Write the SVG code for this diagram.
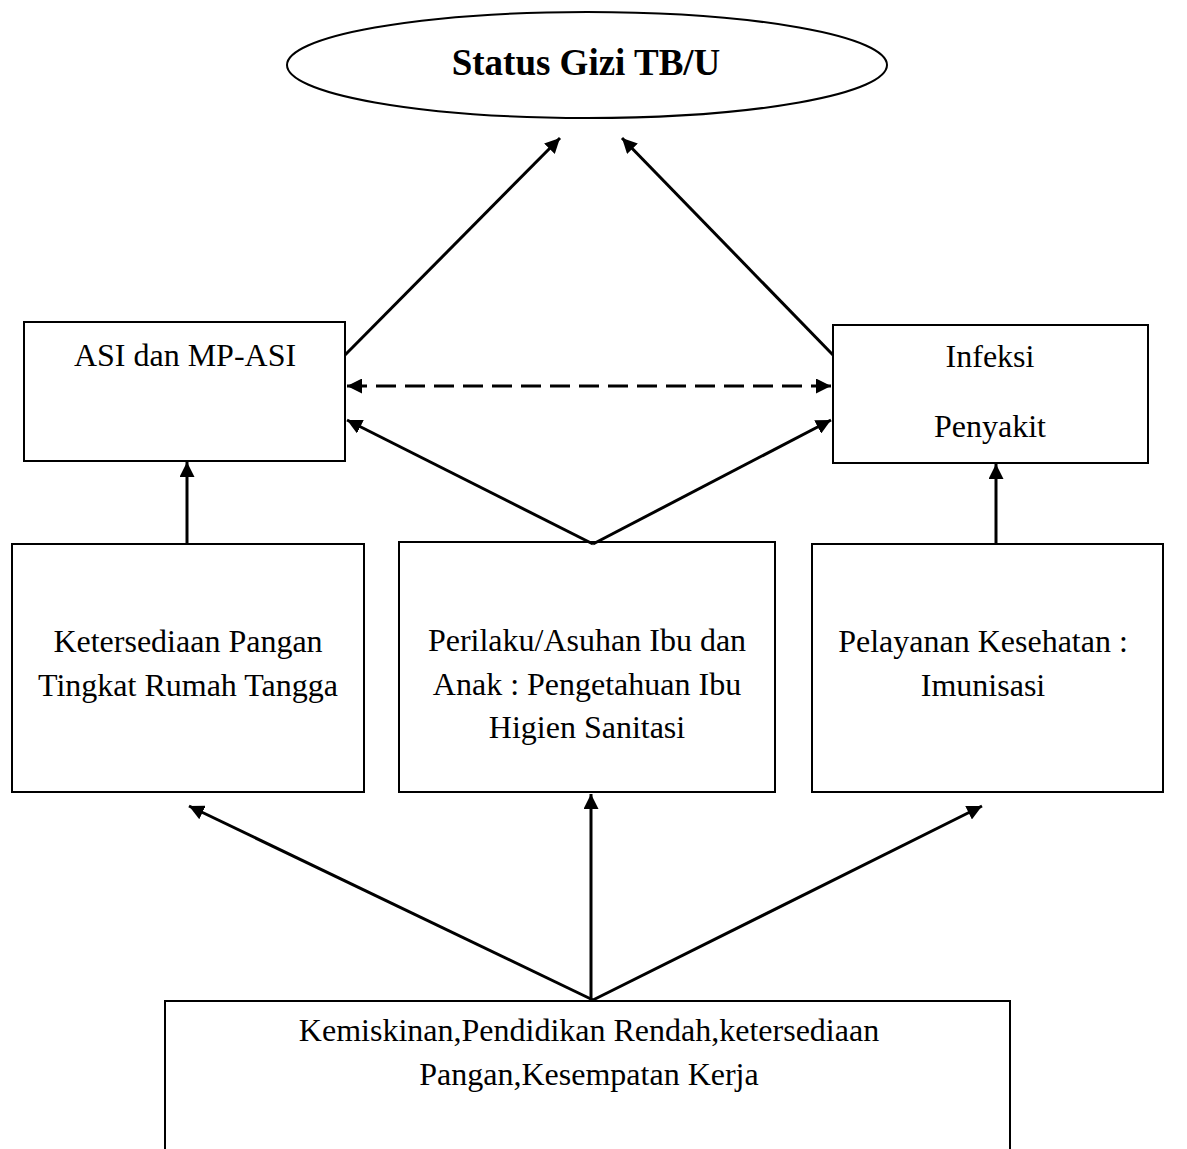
<svg xmlns="http://www.w3.org/2000/svg" width="1187" height="1149" viewBox="0 0 1187 1149">
<style>
.box{fill:#fff;stroke:#000;stroke-width:2}
.t{font-family:"Liberation Serif","Times New Roman",serif;font-size:32px;fill:#000;text-anchor:middle}
.title{font-family:"Liberation Serif","Times New Roman",serif;font-size:37px;font-weight:bold;fill:#000;text-anchor:middle}
.c{stroke:#000;stroke-width:3;fill:none}
</style>
<defs>
<marker id="ah" viewBox="0 0 10 10" refX="10" refY="5" markerWidth="5" markerHeight="5" orient="auto-start-reverse" markerUnits="strokeWidth">
<path d="M0,0 L10,5 L0,10 z" fill="#000"/>
</marker>
</defs>
<rect width="1187" height="1149" fill="#fff"/>
<g id="status">
<ellipse class="box" cx="587" cy="65" rx="300" ry="53"/>
<text class="title" x="586" y="75">Status Gizi TB/U</text>
</g>
<g id="asi">
<rect class="box" x="24" y="322" width="321" height="139"/>
<text class="t" x="185" y="366">ASI dan MP-ASI</text>
</g>
<g id="infeksi">
<rect class="box" x="833" y="325" width="315" height="138"/>
<text class="t" x="990" y="367">Infeksi</text>
<text class="t" x="990" y="437">Penyakit</text>
</g>
<g id="ketersediaan">
<rect class="box" x="12" y="544" width="352" height="248"/>
<text class="t" x="188" y="652">Ketersediaan Pangan</text>
<text class="t" x="188" y="696">Tingkat Rumah Tangga</text>
</g>
<g id="perilaku">
<rect class="box" x="399" y="542" width="376" height="250"/>
<text class="t" x="587" y="651">Perilaku/Asuhan Ibu dan</text>
<text class="t" x="587" y="695">Anak : Pengetahuan Ibu</text>
<text class="t" x="587" y="738">Higien Sanitasi</text>
</g>
<g id="pelayanan">
<rect class="box" x="812" y="544" width="351" height="248"/>
<text class="t" x="983" y="652">Pelayanan Kesehatan :</text>
<text class="t" x="983" y="696">Imunisasi</text>
</g>
<g id="kemiskinan">
<rect class="box" x="165" y="1001" width="845" height="160"/>
<text class="t" x="589" y="1041">Kemiskinan,Pendidikan Rendah,ketersediaan</text>
<text class="t" x="589" y="1085">Pangan,Kesempatan Kerja</text>
</g>
<g id="connectors">
<line class="c" x1="345" y1="355" x2="560" y2="138" marker-end="url(#ah)"/>
<line class="c" x1="833" y1="355" x2="622" y2="138" marker-end="url(#ah)"/>
<line class="c" x1="347" y1="386" x2="831" y2="386" stroke-dasharray="20,9" marker-start="url(#ah)" marker-end="url(#ah)"/>
<line class="c" x1="593" y1="544" x2="347" y2="420" marker-end="url(#ah)"/>
<line class="c" x1="593" y1="544" x2="831" y2="420" marker-end="url(#ah)"/>
<line class="c" x1="187" y1="544" x2="187" y2="462" marker-end="url(#ah)"/>
<line class="c" x1="996" y1="544" x2="996" y2="464" marker-end="url(#ah)"/>
<line class="c" x1="593" y1="1000" x2="189" y2="806" marker-end="url(#ah)"/>
<line class="c" x1="591" y1="1000" x2="591" y2="794" marker-end="url(#ah)"/>
<line class="c" x1="593" y1="1000" x2="982" y2="806" marker-end="url(#ah)"/>
</g>
</svg>
